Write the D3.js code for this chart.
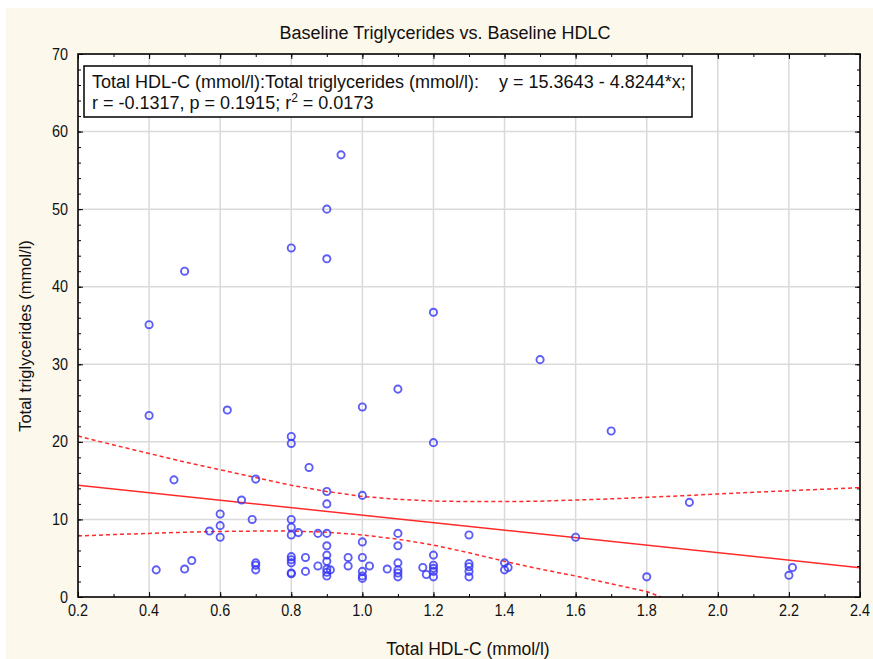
<!DOCTYPE html>
<html><head><meta charset="utf-8">
<script src="https://cdn.jsdelivr.net/npm/d3@7"></script>
<style>body{margin:0;background:#fff}svg{display:block}</style>
</head><body>
<svg id="c" width="873" height="659"></svg>
<script>
// ---- data ----
const titleText = "Baseline Triglycerides vs. Baseline HDLC";
const xLabel = "Total HDL-C (mmol/l)";
const yLabel = "Total triglycerides (mmol/l)";
const xTicks = [0.2,0.4,0.6,0.8,1.0,1.2,1.4,1.6,1.8,2.0,2.2,2.4];
const yTicks = [0,10,20,30,40,50,60,70];
const hdl = [0.4,0.4,0.42,0.47,0.5,0.5,0.52,0.57,0.6,0.6,0.6,0.62,0.66,0.69,0.7,0.7,0.7,0.7,
  0.8,0.8,0.8,0.8,0.8,0.8,0.8,0.8,0.8,0.8,0.8,
  0.82,0.84,0.84,0.85,0.875,0.875,
  0.9,0.9,0.9,0.9,0.9,0.9,0.9,0.9,0.9,0.9,0.9,0.91,0.94,0.96,0.96,
  1.0,1.0,1.0,1.0,1.0,1.0,1.0,1.02,1.07,
  1.1,1.1,1.1,1.1,1.1,1.1,1.1,1.17,1.18,
  1.2,1.2,1.2,1.2,1.2,1.2,1.2,
  1.3,1.3,1.3,1.3,1.3,1.4,1.4,1.41,
  1.5,1.6,1.7,1.8,1.92,2.2,2.21];
const tg = [35.1,23.4,3.5,15.1,42.0,3.6,4.7,8.5,10.7,9.2,7.7,24.1,12.5,10.0,15.2,4.4,4.1,3.5,
  45.0,20.7,19.8,10.0,9.0,8.0,5.2,4.8,4.4,3.1,3.0,
  8.3,5.1,3.3,16.7,8.2,4.0,
  50.0,43.6,13.6,12.0,8.2,6.6,5.4,4.6,3.6,3.2,2.7,3.5,57.0,5.1,4.0,
  24.5,13.1,7.1,5.1,3.3,2.7,2.4,4.0,3.6,
  26.8,8.2,6.6,4.4,3.5,3.1,2.6,3.8,2.9,
  36.7,19.9,5.4,4.1,3.7,3.3,2.6,
  8.0,4.3,3.9,3.3,2.6,4.4,3.5,3.8,
  30.6,7.7,21.4,2.6,12.2,2.8,3.8];
const fitX = [0.2, 2.4];
const fitY = [14.4154, 3.7857]; // y = 15.3643 - 4.8244*x
const bandX = [0.2,0.3,0.4,0.5,0.6,0.7,0.8,0.9,1.0,1.1,1.2,1.3,1.4,1.5,1.6,1.7,1.8,1.9,2.0,2.1,2.2,2.3,2.4];
const bandUpper = [20.75,19.6,18.5,17.4,16.4,15.4,14.4,13.6,12.95,12.6,12.37,12.3,12.3,12.35,12.5,12.65,12.85,13.05,13.28,13.5,13.7,13.9,14.1];
const bandLowerX = [0.2,0.3,0.4,0.5,0.6,0.7,0.8,0.9,1.0,1.1,1.2,1.3,1.4,1.5,1.6,1.7,1.8,1.84];
const bandLower = [7.86,8.05,8.2,8.35,8.45,8.5,8.5,8.35,8.0,7.45,6.7,5.7,4.6,3.6,2.7,1.7,0.7,0.0];
const legendLine1 = "Total HDL-C (mmol/l):Total triglycerides (mmol/l):    y = 15.3643 - 4.8244*x;";
const legendLine2a = "r = -0.1317, p = 0.1915; r";
const legendLine2b = " = 0.0173";

// ---- chart ----
const W = 873, H = 659;
const L = 78, R = 860, T = 54, B = 597;
const svg = d3.select("#c");
const font = "'Liberation Sans', Arial, sans-serif";

svg.append("rect").attr("width", W).attr("height", H).attr("fill", "#fff");
svg.append("rect").attr("x", 6).attr("y", 8).attr("width", W - 6).attr("height", H - 8).attr("fill", "#fdf8ec");

const x = d3.scaleLinear().domain([0.2, 2.4]).range([L, R]);
const y = d3.scaleLinear().domain([0, 70]).range([B, T]);

svg.append("rect").attr("x", L).attr("y", T).attr("width", R - L).attr("height", B - T).attr("fill", "#fff");

// grid
const grid = svg.append("g");
grid.selectAll("line.gx").data(xTicks.slice(1, -1)).join("line")
  .attr("x1", d => x(d)).attr("x2", d => x(d)).attr("y1", T).attr("y2", B)
  .attr("stroke", "#dadada").attr("stroke-width", 1.5);
grid.selectAll("line.gy").data(yTicks.slice(1, -1)).join("line")
  .attr("y1", d => y(d)).attr("y2", d => y(d)).attr("x1", L).attr("x2", R)
  .attr("stroke", "#dadada").attr("stroke-width", 1.5);

// inner ticks via d3 axes
const xMinor = d3.range(0.2, 2.401, 0.1);
const yMinor = d3.range(0, 70.01, 2);
function tickAxis(axis, tr) {
  const g = svg.append("g").attr("transform", tr).call(axis);
  g.selectAll("text").remove();
  g.select(".domain").remove();
  g.selectAll("line").attr("stroke", "#000").attr("stroke-width", 1);
}
tickAxis(d3.axisBottom(x).tickValues(xMinor).tickSize(-3), `translate(0,${B})`);
tickAxis(d3.axisBottom(x).tickValues(xTicks).tickSize(-5), `translate(0,${B})`);
tickAxis(d3.axisTop(x).tickValues(xMinor).tickSize(-3), `translate(0,${T})`);
tickAxis(d3.axisTop(x).tickValues(xTicks).tickSize(-5), `translate(0,${T})`);
tickAxis(d3.axisLeft(y).tickValues(yMinor).tickSize(-3), `translate(${L},0)`);
tickAxis(d3.axisLeft(y).tickValues(yTicks).tickSize(-5), `translate(${L},0)`);
tickAxis(d3.axisRight(y).tickValues(yMinor).tickSize(-3), `translate(${R},0)`);
tickAxis(d3.axisRight(y).tickValues(yTicks).tickSize(-5), `translate(${R},0)`);

// clip
svg.append("clipPath").attr("id", "clip").append("rect")
  .attr("x", L).attr("y", T).attr("width", R - L).attr("height", B - T);

// regression + bands
const plot = svg.append("g").attr("clip-path", "url(#clip)");
const line = d3.line().x(d => x(d[0])).y(d => y(d[1]));
plot.append("path").datum(d3.zip(fitX, fitY)).attr("d", line)
  .attr("fill", "none").attr("stroke", "#ff2a2a").attr("stroke-width", 1.5);
plot.append("path").datum(d3.zip(bandX, bandUpper)).attr("d", line)
  .attr("fill", "none").attr("stroke", "#ff2a2a").attr("stroke-width", 1.5).attr("stroke-dasharray", "4,3");
plot.append("path").datum(d3.zip(bandLowerX, bandLower)).attr("d", line)
  .attr("fill", "none").attr("stroke", "#ff2a2a").attr("stroke-width", 1.5).attr("stroke-dasharray", "4,3");

// points
plot.selectAll("circle").data(d3.zip(hdl, tg)).join("circle")
  .attr("cx", d => x(d[0])).attr("cy", d => y(d[1])).attr("r", 3.6)
  .attr("fill", "none").attr("stroke", "#3535f5").attr("stroke-opacity", 0.8).attr("stroke-width", 1.9);

// frame
svg.append("rect").attr("x", L).attr("y", T).attr("width", R - L).attr("height", B - T)
  .attr("fill", "none").attr("stroke", "#000").attr("stroke-width", 1.6);

// tick labels (slightly condensed like the reference)
const xl = svg.append("g");
xl.selectAll("text").data(xTicks).join("text")
  .attr("transform", d => `translate(${x(d)},616) scale(0.9,1)`).attr("text-anchor", "middle")
  .attr("font-family", font).attr("font-size", 16).attr("fill", "#111")
  .text(d => d3.format(".1f")(d));
const yl = svg.append("g");
yl.selectAll("text").data(yTicks).join("text")
  .attr("transform", d => `translate(68,${y(d) + 5.5}) scale(0.9,1)`).attr("text-anchor", "end")
  .attr("font-family", font).attr("font-size", 16).attr("fill", "#111")
  .text(d => d);

// title & labels
svg.append("text").attr("x", 445).attr("y", 39).attr("text-anchor", "middle")
  .attr("font-family", font).attr("font-size", 18).attr("fill", "#111").text(titleText);
svg.append("text").attr("x", 468).attr("y", 655).attr("text-anchor", "middle")
  .attr("font-family", font).attr("font-size", 17.5).attr("fill", "#111").text(xLabel);
svg.append("text").attr("transform", "translate(31,336) rotate(-90)").attr("text-anchor", "middle")
  .attr("font-family", font).attr("font-size", 16.5).attr("fill", "#111").text(yLabel);

// legend box
svg.append("rect").attr("x", 84).attr("y", 66).attr("width", 608).attr("height", 51)
  .attr("fill", "#fff").attr("stroke", "#000").attr("stroke-width", 1.5);
svg.append("text").attr("x", 92).attr("y", 88).attr("font-family", font).attr("font-size", 18)
  .attr("fill", "#111").attr("xml:space", "preserve").style("white-space", "pre").text(legendLine1);
const t2 = svg.append("text").attr("x", 92).attr("y", 109).attr("font-family", font).attr("font-size", 18).attr("fill", "#111");
t2.append("tspan").text(legendLine2a);
t2.append("tspan").attr("dy", -7).attr("font-size", 12).text("2");
t2.append("tspan").attr("dy", 7).text(legendLine2b);
</script>
</body></html>
